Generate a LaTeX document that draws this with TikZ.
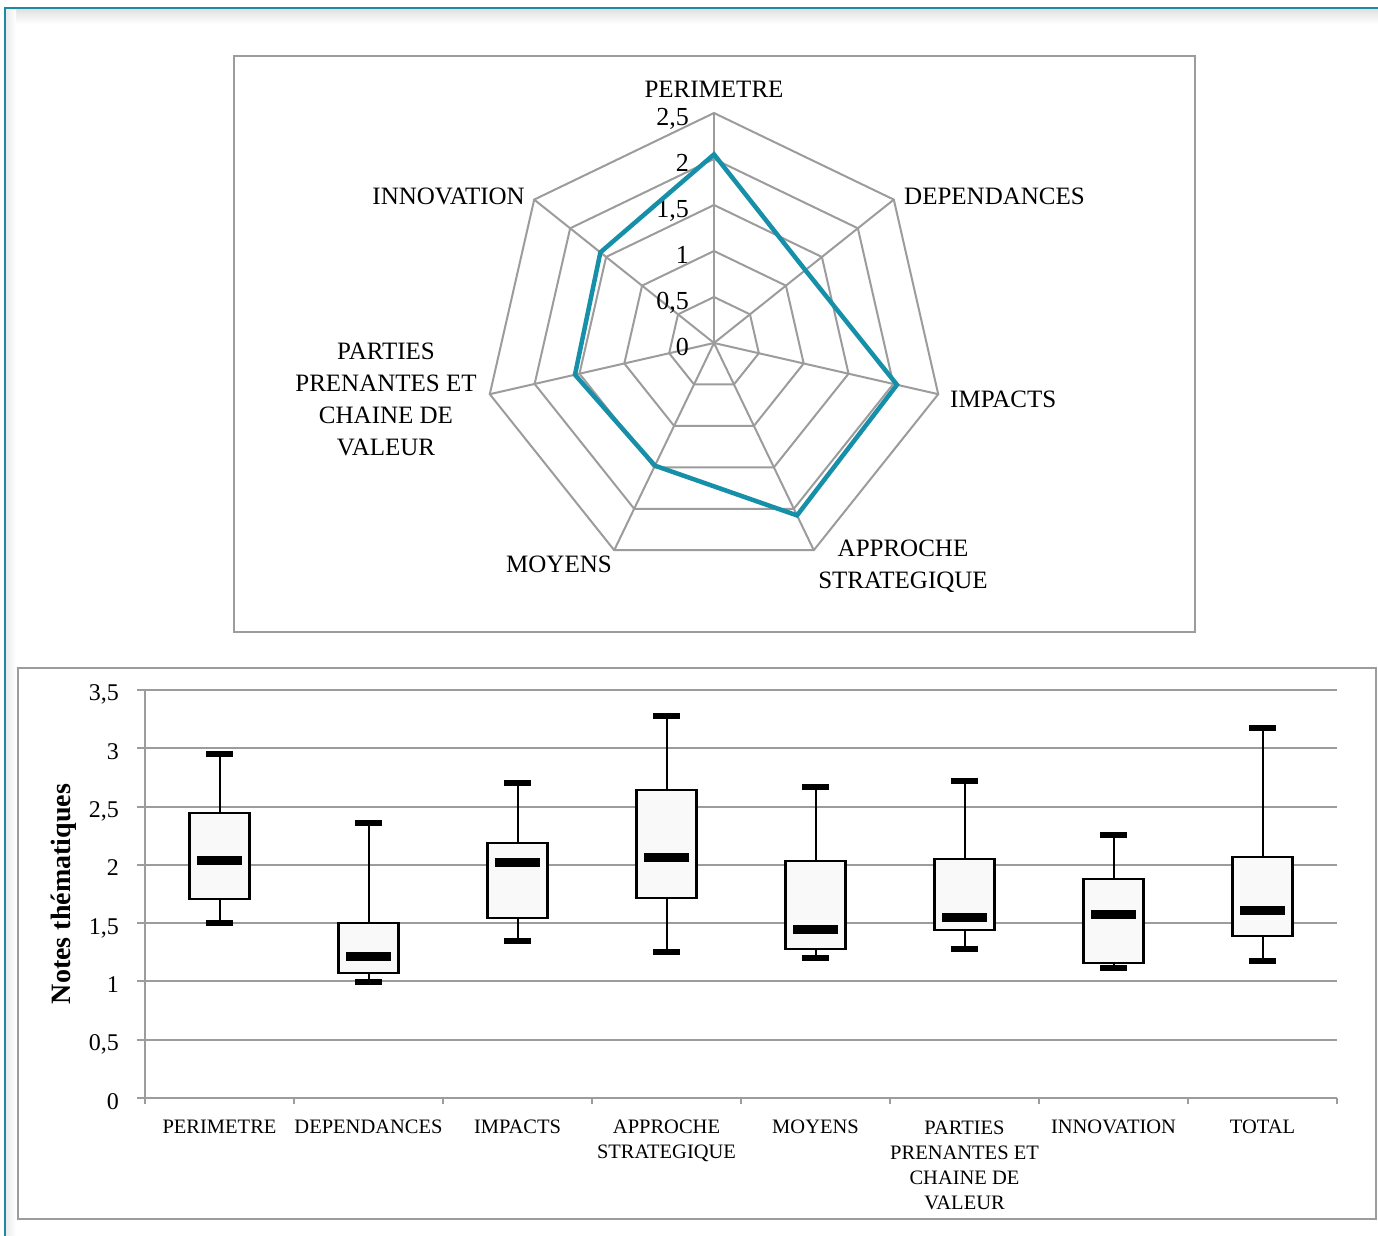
\documentclass[tikz,border=0pt]{standalone}
\usepackage{fontspec}
\setmainfont{Liberation Serif}
\usetikzlibrary{calc}
\definecolor{frameteal}{RGB}{28,138,162}
\definecolor{seriesblue}{RGB}{22,143,168}
\definecolor{gridgray}{RGB}{156,156,156}
\definecolor{boxfill}{RGB}{249,249,249}
\begin{document}
\begin{tikzpicture}[x=1pt,y=-1pt,
  gridline/.style={draw=gridgray,line width=2pt},
  framebox/.style={draw=gridgray,line width=2pt},
  series/.style={draw=seriesblue,line width=4.5pt},
  radarlab/.style={font=\fontsize{25}{32}\selectfont,inner sep=0pt,anchor=base,align=center},
  radartick/.style={font=\fontsize{26}{30}\selectfont,inner sep=0pt,anchor=base east},
  catlab/.style={font=\fontsize{20.5}{25}\selectfont,inner sep=0pt,anchor=base,align=center},
  ytick/.style={font=\fontsize{24}{28}\selectfont,inner sep=0pt,anchor=base east},
  whisker/.style={draw=black,line width=2pt},
  boxbody/.style={draw=black,fill=boxfill,line width=2.2pt},
  bar/.style={fill=black}]
\useasboundingbox (0,0) rectangle (1378,1236);
\fill[white] (0,0) rectangle (1378,1236);

% page frame with its soft shadow
\shade[top color=black!12,bottom color=white] (6,9) rectangle (1378,24);
\shade[left color=black!8,right color=white] (6,9) rectangle (16,1236);
\draw[frameteal,line width=2pt] (5,1236) -- (5,8) -- (1378,8);

% ---------------- radar chart ----------------
\draw[framebox] (234,56) rectangle (1195,632);
\coordinate (c) at (714,343);
\def\ang{51.4285714}
\foreach \k in {0,...,6}{
  \draw[gridline] (c) -- ($(c)+(\k*\ang-90:230)$);
}
\foreach \r in {46,92,138,184,230}{
  \draw[gridline,line join=miter] ($(c)+(-90:\r)$)
    \foreach \k in {1,...,6}{ -- ($(c)+(\k*\ang-90:\r)$) } -- cycle;
}
% scale labels along the first axis
\foreach \v/\t in {0/0,0.5/{0,5},1/1,1.5/{1,5},2/2,2.5/{2,5}}{
  \node[radartick] at (689,{343-92*\v+12}) {\t};
}
% series
\foreach \k/\v in {0/2.05,1/1.27,2/2.04,3/2.08,4/1.48,5/1.55,6/1.58}{
  \coordinate (p\k) at ($(c)+(\k*\ang-90:{92*\v})$);
}
\draw[series] (p0) -- (p1) -- (p2) -- (p3) -- (p4) -- (p5) -- (p6) -- cycle;
% axis names (base anchor sits on the last line of a multi-line label)
\node[radarlab] (lperim) at (714,98) {PERIMETRE};
\node[radarlab,anchor=base west] (ldep) at (904,204) {DEPENDANCES};
\node[radarlab,anchor=base west] (limp) at (950,407) {IMPACTS};
\node[radarlab] (lappr) at (903,588) {APPROCHE\\STRATEGIQUE};
\node[radarlab] (lmoy) at (559,572) {MOYENS};
\node[radarlab] (lpart) at (386,455) {PARTIES\\PRENANTES ET\\CHAINE DE\\VALEUR};
\node[radarlab,anchor=base east] (linno) at (525,204) {INNOVATION};

% ---------------- box plot ----------------
\draw[framebox] (18,668) rectangle (1376,1219);
\foreach \v in {0.5,1,1.5,2,2.5,3,3.5}{
  \draw[gridline] (137,{1098-116.6*\v}) -- (1337,{1098-116.6*\v});
}
\foreach \v/\t in {0/0,0.5/{0,5},1/1,1.5/{1,5},2/2,2.5/{2,5},3/3,3.5/{3,5}}{
  \node[ytick] at (119,{1098-116.6*\v+11}) {\t};
}
\draw[gridline] (145,690) -- (145,1098);
\draw[gridline] (137,1098) -- (1337,1098);
\foreach \k in {0,...,8}{
  \draw[gridline] ({145+149*\k},1098) -- ({145+149*\k},1104);
}
\node[rotate=90,font=\bfseries\fontsize{28}{30}\selectfont,inner sep=0pt] (ytitle) at (64,894) {Notes thématiques};

\foreach \cx/\hi/\qt/\md/\qb/\lo in {
  219.5/754/813/860/899/923,
  368.5/823/923/956.7/972.7/981.7,
  517.5/783/843/862/918/941,
  666.5/716/790/857/898/952,
  815.5/787/861/929/949/958,
  964.5/781/859/917/930/949,
  1113.5/835/879/914/963/968,
  1262.5/728/857/910/936/961}{
  \draw[whisker] (\cx,\hi) -- (\cx,\qt);
  \draw[whisker] (\cx,\qb) -- (\cx,\lo);
  \fill[bar] ({\cx-13.5},{\hi-3}) rectangle ({\cx+13.5},{\hi+3});
  \fill[bar] ({\cx-13.5},{\lo-3}) rectangle ({\cx+13.5},{\lo+3});
  \draw[boxbody] ({\cx-30},\qt) rectangle ({\cx+30},\qb);
  \fill[bar] ({\cx-22.5},{\md-4.5}) rectangle ({\cx+22.5},{\md+4.5});
}
% category names
\node[catlab] (c1) at (219.5,1133) {PERIMETRE};
\node[catlab] (c2) at (368.5,1133) {DEPENDANCES};
\node[catlab] (c3) at (517.5,1133) {IMPACTS};
\node[catlab] (c4) at (666.5,1158) {APPROCHE\\STRATEGIQUE};
\node[catlab] (c5) at (815.5,1133) {MOYENS};
\node[catlab] (c6) at (964.5,1209) {PARTIES\\PRENANTES ET\\CHAINE DE\\VALEUR};
\node[catlab] (c7) at (1113.5,1133) {INNOVATION};
\node[catlab] (c8) at (1262.5,1133) {TOTAL};
\end{tikzpicture}
\end{document}
